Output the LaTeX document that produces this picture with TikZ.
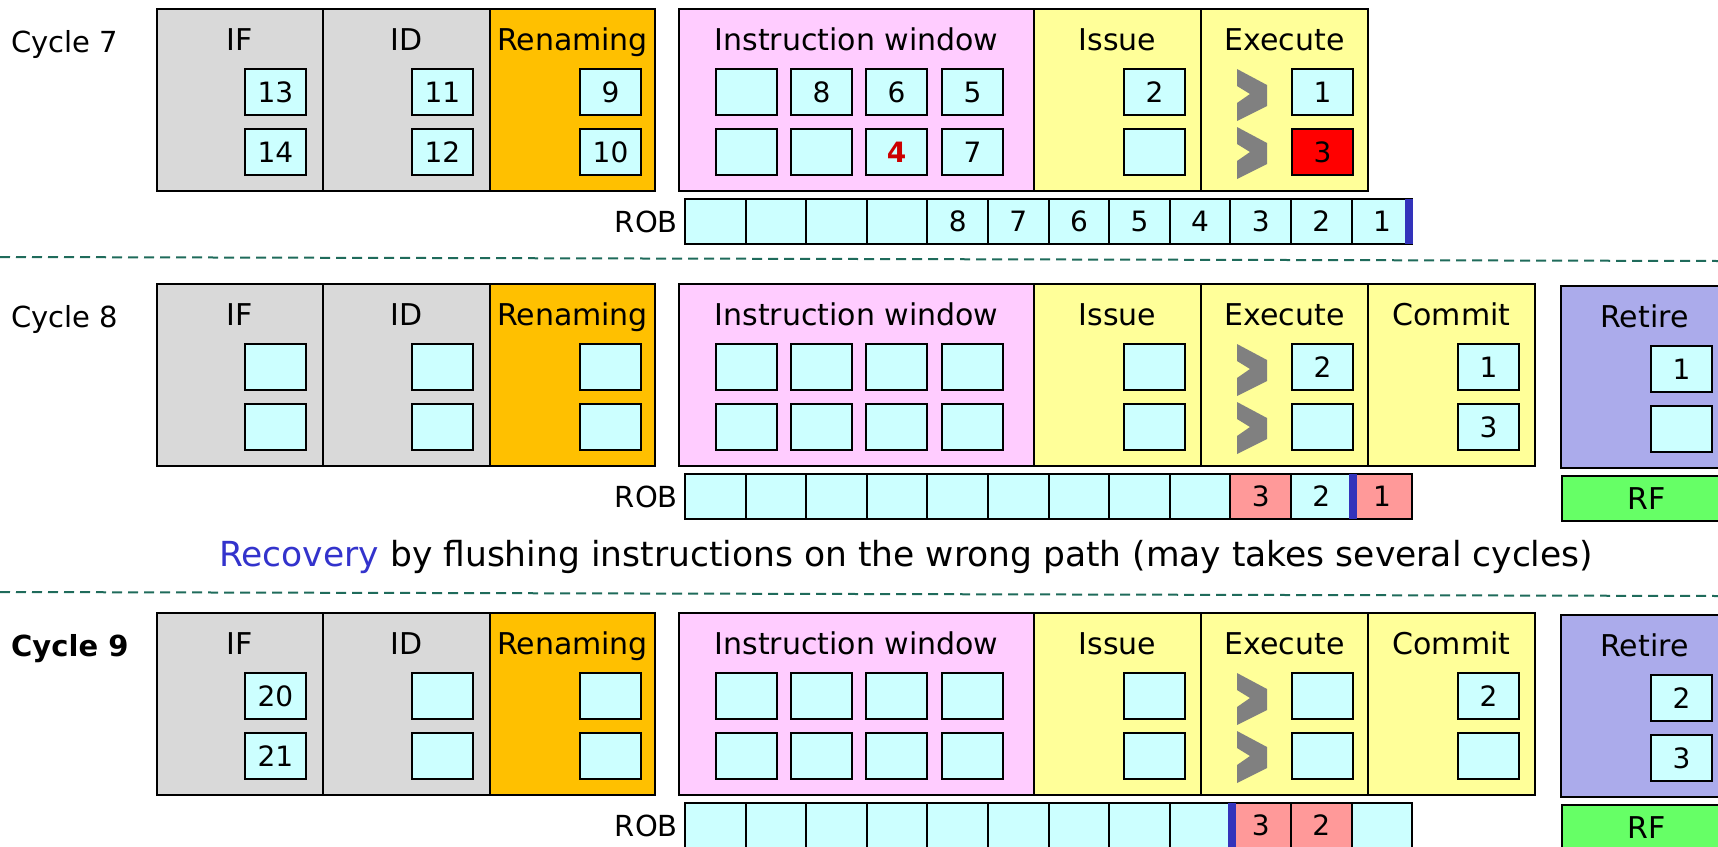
\documentclass[tikz,border=0pt]{standalone}
\usepackage{fontspec}
\setmainfont{DejaVu Sans}

\definecolor{stagegray}{HTML}{D9D9D9}
\definecolor{renorange}{HTML}{FFC000}
\definecolor{iwpink}{HTML}{FFCCFF}
\definecolor{unityellow}{HTML}{FFFF99}
\definecolor{retirepurple}{HTML}{ABABEB}
\definecolor{slotcyan}{HTML}{CCFFFF}
\definecolor{robpink}{HTML}{FF9999}
\definecolor{rfgreen}{HTML}{66FF66}
\definecolor{ptrblue}{HTML}{3333BB}
\definecolor{chevgray}{HTML}{808080}
\definecolor{rulegreen}{HTML}{1F6B5B}
\definecolor{recblue}{HTML}{3333CC}
\definecolor{flagred}{HTML}{CC0000}

\tikzset{
  stagebox/.style={draw=black, line width=2.4pt, inner sep=0pt, outer sep=0pt,
    anchor=north west, minimum height=182pt},
  stagetitle/.style={anchor=base, inner sep=0pt, font=\fontsize{30}{36}\selectfont},
  slot/.style={draw=black, line width=2pt, fill=slotcyan, inner sep=0pt, outer sep=0pt,
    anchor=north west, minimum width=61pt, minimum height=46pt,
    font=\fontsize{28}{34}\selectfont},
  robcell/.style={slot, minimum width=60.6pt, minimum height=45pt},
  rfbox/.style={slot, fill=rfgreen, minimum width=170pt, minimum height=45pt,
    font=\fontsize{30}{36}\selectfont},
  cyclelabel/.style={anchor=base west, inner sep=0pt, font=\fontsize{29}{35}\selectfont},
  roblabel/.style={anchor=east, inner sep=0pt, font=\fontsize{29}{35}\selectfont},
  robptr/.style={fill=ptrblue},
  separator/.style={draw=rulegreen, line width=2pt, dash pattern=on 10pt off 6pt},
  chevron/.pic={\fill[chevgray] (0,0) -- (30,16) -- (30,37) -- (0,52) -- (0,34)
    -- (13,25) -- (0,17) -- cycle;},
}

% front part of the pipeline: IF .. Execute, plus cycle and ROB labels
\newcommand\PipeFront[3]{%
  \node[cyclelabel] (#1cyc) at (11,#2+43) {#3};
  \node[stagebox, fill=stagegray,  minimum width=166pt] (#1if)  at (157,#2) {};
  \node[stagebox, fill=stagegray,  minimum width=167pt] (#1id)  at (323,#2) {};
  \node[stagebox, fill=renorange,  minimum width=165pt] (#1ren) at (490,#2) {};
  \node[stagebox, fill=iwpink,     minimum width=355pt] (#1iw)  at (679,#2) {};
  \node[stagebox, fill=unityellow, minimum width=167pt] (#1iss) at (1034,#2) {};
  \node[stagebox, fill=unityellow, minimum width=167pt] (#1ex)  at (1201,#2) {};
  \node[stagetitle] (#1if-t)  at ([yshift=-41pt]#1if.north)  {IF};
  \node[stagetitle] (#1id-t)  at ([yshift=-41pt]#1id.north)  {ID};
  \node[stagetitle] (#1ren-t) at ([yshift=-41pt]#1ren.north) {Renaming};
  \node[stagetitle] (#1iw-t)  at ([yshift=-41pt]#1iw.north)  {Instruction window};
  \node[stagetitle] (#1iss-t) at ([yshift=-41pt]#1iss.north) {Issue};
  \node[stagetitle] (#1ex-t)  at ([yshift=-41pt]#1ex.north)  {Execute};
  \pic (#1chevA) at (1237,#2+60) {chevron};
  \pic (#1chevB) at (1237,#2+118) {chevron};
  \node[roblabel] (#1robl) at (678,#2+212.5) {ROB};
}

% back part of the pipeline: Commit, Retire and the register file
\newcommand\PipeBack[2]{%
  \node[stagebox, fill=unityellow, minimum width=167pt] (#1com) at (1368,#2) {};
  \node[stagetitle] (#1com-t) at ([yshift=-41pt]#1com.north) {Commit};
  \node[stagebox, fill=retirepurple, minimum width=167pt] (#1ret) at (1561,#2+2) {};
  \node[stagetitle] (#1ret-t) at ([yshift=-41pt]#1ret.north) {Retire};
  \node[rfbox] (#1rf) at (1562,#2+192) {RF};
}

% two stacked instruction slots
\newcommand\SlotPair[5]{%
  \node[slot] (#1a) at (#2,#3+60) {#4};
  \node[slot] (#1b) at (#2,#3+120) {#5};
}

% reorder buffer: list of text/colour pairs
\newcommand\RobRow[3]{%
  \foreach \t/\c [count=\i from 0] in {#3}
    \node[robcell, fill=\c] (#1rob\i) at (685+60.6*\i,#2+190) {\t};
}

\begin{document}
\begin{tikzpicture}[x=1pt, y=-1pt]
\useasboundingbox (0,0) rectangle (1718,846);
\clip (0,0) rectangle (1718,846);

\draw[separator] (0,257) -- (1718,261);
\draw[separator] (0,592) -- (1718,596);

% ---------------- cycle 7 ----------------
\PipeFront{a}{9}{Cycle 7}
\SlotPair{aif}{245}{9}{13}{14}
\SlotPair{aid}{412}{9}{11}{12}
\SlotPair{aren}{580}{9}{9}{10}
\SlotPair{aiwA}{716}{9}{}{}
\SlotPair{aiwB}{791}{9}{8}{}
\SlotPair{aiwC}{866}{9}{6}{\textcolor{flagred}{\bfseries 4}}
\SlotPair{aiwD}{942}{9}{5}{7}
\SlotPair{aiss}{1124}{9}{2}{}
\node[slot] (aexa) at (1292,69) {1};
\node[slot, fill=red] (aexb) at (1292,129) {3};
\RobRow{a}{9}{/slotcyan,/slotcyan,/slotcyan,/slotcyan,8/slotcyan,7/slotcyan,6/slotcyan,5/slotcyan,4/slotcyan,3/slotcyan,2/slotcyan,1/slotcyan}
\fill[robptr] ([xshift=-7pt]arob11.north east) rectangle ([xshift=1pt]arob11.south east);

% ---------------- cycle 8 ----------------
\PipeFront{b}{284}{Cycle 8}
\PipeBack{b}{284}
\SlotPair{bif}{245}{284}{}{}
\SlotPair{bid}{412}{284}{}{}
\SlotPair{bren}{580}{284}{}{}
\SlotPair{biwA}{716}{284}{}{}
\SlotPair{biwB}{791}{284}{}{}
\SlotPair{biwC}{866}{284}{}{}
\SlotPair{biwD}{942}{284}{}{}
\SlotPair{biss}{1124}{284}{}{}
\SlotPair{bex}{1292}{284}{2}{}
\SlotPair{bcom}{1458}{284}{1}{3}
\SlotPair{bret}{1651}{286}{1}{}
\RobRow{b}{284}{/slotcyan,/slotcyan,/slotcyan,/slotcyan,/slotcyan,/slotcyan,/slotcyan,/slotcyan,/slotcyan,3/robpink,2/slotcyan,1/robpink}
\fill[robptr] ([xshift=-3pt]brob11.north west) rectangle ([xshift=5pt]brob11.south west);

\node[anchor=base west, inner sep=0pt, font=\fontsize{34.5}{40}\selectfont] (recovery)
  at (219,566) {\textcolor{recblue}{Recovery} by flushing instructions on the wrong path (may takes several cycles)};

% ---------------- cycle 9 ----------------
\PipeFront{c}{613}{\bfseries Cycle 9}
\PipeBack{c}{613}
\SlotPair{cif}{245}{613}{20}{21}
\SlotPair{cid}{412}{613}{}{}
\SlotPair{cren}{580}{613}{}{}
\SlotPair{ciwA}{716}{613}{}{}
\SlotPair{ciwB}{791}{613}{}{}
\SlotPair{ciwC}{866}{613}{}{}
\SlotPair{ciwD}{942}{613}{}{}
\SlotPair{ciss}{1124}{613}{}{}
\SlotPair{cex}{1292}{613}{}{}
\SlotPair{ccom}{1458}{613}{2}{}
\SlotPair{cret}{1651}{615}{2}{3}
\RobRow{c}{613}{/slotcyan,/slotcyan,/slotcyan,/slotcyan,/slotcyan,/slotcyan,/slotcyan,/slotcyan,/slotcyan,3/robpink,2/robpink,/slotcyan}
\fill[robptr] ([xshift=-2pt]crob9.north west) rectangle ([xshift=6pt]crob9.south west);
\end{tikzpicture}
\end{document}
